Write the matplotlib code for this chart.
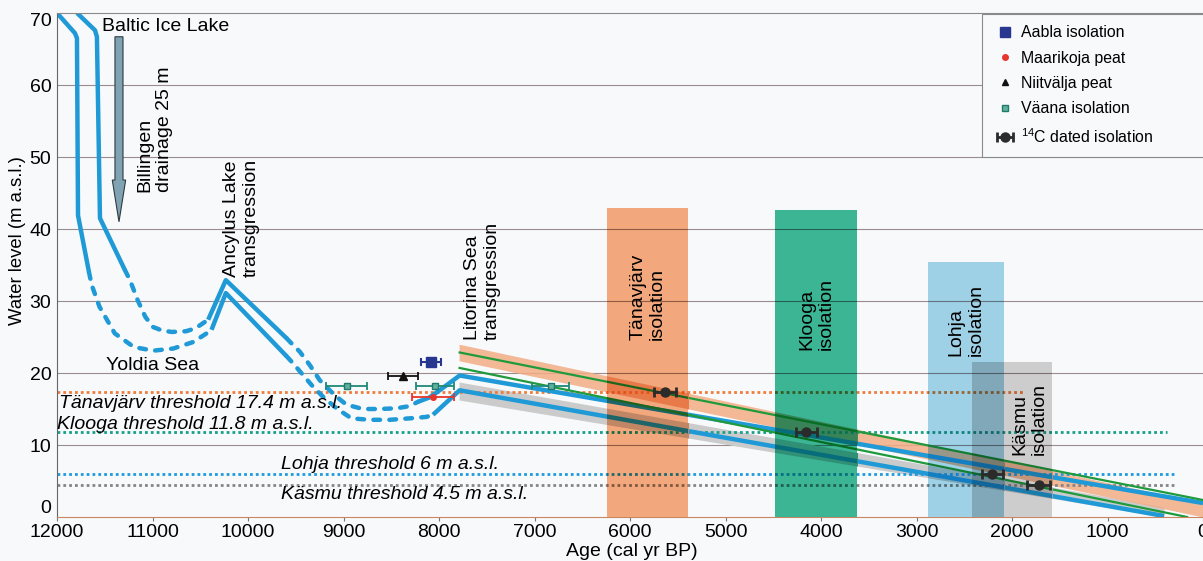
import numpy as np
import matplotlib
matplotlib.use('Agg')
import matplotlib.pyplot as plt
import matplotlib.patches as mpatches
from matplotlib.lines import Line2D
from matplotlib.colors import to_rgb

plt.rcParams['font.family'] = ['Liberation Sans', 'DejaVu Sans']
plt.rcParams['mathtext.fontset'] = 'custom'
plt.rcParams['mathtext.rm'] = 'Liberation Sans'

# shoreline curves: age (cal yr BP) / level (m a.s.l.)
# upper curve
up_bil_age = [11790, 11602, 11582, 11550, 11289]
up_bil_lvl = [70.0, 67.6, 66.7, 41.5, 34.3]
up_yol_age = [11289, 11236, 11155, 11075, 10996, 10900, 10797, 10650, 10550, 10473, 10417]
up_yol_lvl = [34.3, 32.9, 30.1, 27.8, 26.4, 25.9, 25.7, 25.8, 26.2, 26.9, 27.4]
up_anc_age = [10417, 10232, 9594]
up_anc_lvl = [27.4, 32.9, 24.8]
up_gap_age = [9594, 9562, 9458, 9353, 9249, 9092, 8969, 8796, 8621, 8446, 8307, 8220]
up_gap_lvl = [24.8, 24.35, 22.96, 21.1, 19.0, 16.9, 15.6, 15.0, 15.0, 15.1, 15.4, 16.0]
up_lit_age = [8220, 8100, 7993, 7784, 0]
up_lit_lvl = [16.0, 16.6, 17.6, 19.65, 1.94]

# lower curve
lo_bil_age = [12000, 11812, 11791, 11780, 11665]
lo_bil_lvl = [70.0, 67.2, 66.5, 41.9, 34.0]
lo_yol_age = [11665, 11636, 11555, 11395, 11195, 10992, 10783, 10574, 10434, 10382]
lo_yol_lvl = [34.0, 32.2, 29.2, 25.5, 23.6, 23.1, 23.4, 24.3, 25.5, 26.0]
lo_anc_age = [10382, 10232, 9594]
lo_anc_lvl = [26.0, 31.1, 22.3]
lo_gap_age = [9594, 9528, 9423, 9319, 9214, 9074, 8917, 8725, 8516, 8307, 8132, 8063]
lo_gap_lvl = [22.3, 21.35, 19.7, 18.1, 16.7, 15.1, 13.7, 13.5, 13.5, 13.7, 13.9, 14.2]
lo_lit_age = [8063, 7784, 408]
lo_lit_lvl = [14.2, 17.6, 0.14]

# green curves
gr_up_age = [7784, 0]
gr_up_lvl = [22.85, 2.36]
gr_lo_age = [7784, 167]
gr_lo_lvl = [20.7, 0.0]

# uncertainty bands
or_band_age = [7790, 0]
or_band_top = [24.0, 1.94]
or_band_bot = [21.7, 0.0]
gy_band_age = [7790, 408]
gy_band_top = [18.75, 1.4]
gy_band_bot = [16.25, 0.0]

# thresholds
thr_names = ['Tänavjärv', 'Klooga', 'Lohja', 'Käsmu']
thr_levels = [17.4, 11.8, 6.0, 4.5]
thr_end = [1873, 376, 293, 300]
thr_colors = ['#f07c3a', '#16a08a', '#1e9be0', '#858585']

# isolation intervals
bar_old = [6246, 4478, 2877, 2417]
bar_young = [5388, 3620, 2082, 1580]
bar_top = [42.9, 42.6, 35.4, 21.5]
bar_colors = ['#f2a87c', '#3bb593', '#9fd1e6', '#cdcdcd']

# dated points
aabla_age, aabla_lvl, aabla_err = [8080], [21.5], [105]
maar_age, maar_lvl, maar_err = [8060], [16.7], [220]
niit_age, niit_lvl, niit_err = [8380], [19.6], [157]
vaana_age = [8966, 8040, 6832]
vaana_lvl = [18.2, 18.2, 18.2]
vaana_err = [217, 200, 190]
c14_age = [5635, 4153, 2207, 1720]
c14_lvl = [17.4, 11.8, 6.0, 4.5]
c14_err = [113, 109, 109, 118]

grid_levels = [10, 20, 30, 40, 50, 60]

bg = '#f8f9fb'
blue = '#1f9ad6'
green = '#1f9a3c'

segments = [
    (up_bil_age, up_bil_lvl, False), (up_yol_age, up_yol_lvl, True),
    (up_anc_age, up_anc_lvl, False), (up_gap_age, up_gap_lvl, True),
    (up_lit_age, up_lit_lvl, False),
    (lo_bil_age, lo_bil_lvl, False), (lo_yol_age, lo_yol_lvl, True),
    (lo_anc_age, lo_anc_lvl, False), (lo_gap_age, lo_gap_lvl, True),
    (lo_lit_age, lo_lit_lvl, False),
]

fig = plt.figure(figsize=(12.03, 5.61), dpi=100, facecolor=bg)
ax = fig.add_axes([57 / 1203, 44 / 561, 1146 / 1203, 504 / 561])
ax.set_facecolor(bg)


def mult(c, tint):
    if tint is None:
        return c
    return tuple(np.array(to_rgb(c)) * np.array(to_rgb(tint)))


def draw_base(tint=None, clip=None, z=2.0):
    arts = []
    arts.append(ax.hlines(grid_levels, 12000, 0, colors=[mult('#9a8c8c', tint)], lw=0.8, zorder=z))
    arts.append(ax.fill_between(gy_band_age, gy_band_bot, gy_band_top, color=mult('#cbcbcb', tint), lw=0, zorder=z + 0.01))
    arts.append(ax.fill_between(or_band_age, or_band_bot, or_band_top, color=mult('#f3ad85', tint), alpha=0.85, lw=0, zorder=z + 0.02))
    for lvl, end, c in zip(thr_levels, thr_end, thr_colors):
        arts += ax.plot([12000, end], [lvl, lvl], ls=(0, (1, 1.1)), lw=2.0, color=mult(c, tint), zorder=z + 0.03)
    for age, lvl, dashed in segments:
        if dashed:
            arts += ax.plot(age, lvl, color=mult(blue, tint), lw=3.2, ls=(0, (1.5, 2.1)),
                            dash_capstyle='round', zorder=z + 0.04)
        else:
            arts += ax.plot(age, lvl, color=mult(blue, tint), lw=3.2, solid_capstyle='butt', zorder=z + 0.04)
    arts += ax.plot(gr_up_age, gr_up_lvl, color=mult(green, tint), lw=1.6, zorder=z + 0.05)
    arts += ax.plot(gr_lo_age, gr_lo_lvl, color=mult(green, tint), lw=1.6, zorder=z + 0.05)
    if clip is not None:
        for a in arts:
            a.set_clip_path(clip)


draw_base()

# isolation bars, multiplied over what lies beneath
regions = list(zip(bar_old, bar_young, bar_top, bar_colors))
regions.append((bar_old[3], bar_young[2], min(bar_top[2], bar_top[3]), mult(bar_colors[2], bar_colors[3])))
z = 3
for old, young, top, c in regions:
    rect = mpatches.Rectangle((young, 0), old - young, top, facecolor=c, lw=0, zorder=z)
    ax.add_patch(rect)
    draw_base(tint=c, clip=rect, z=z + 0.1)
    z += 1

# Billingen drainage arrow
arrow = mpatches.FancyArrow(11351, 66.7, 0, -25.7, width=84, head_width=140, head_length=5.8,
                            length_includes_head=True, facecolor='#7fa3b3', edgecolor='#2f3a40',
                            lw=0.8, zorder=12)
ax.add_patch(arrow)

# dated points
ax.errorbar(vaana_age, vaana_lvl, xerr=vaana_err, fmt='s', ms=5, mfc='#5fb09e', mec='#1f7a6a',
            ecolor='#1f8a78', elinewidth=1.3, capsize=3, capthick=1.3, zorder=12)
ax.errorbar(maar_age, maar_lvl, xerr=maar_err, fmt='o', ms=4, color='#e8352e',
            elinewidth=1.3, capsize=3, capthick=1.3, zorder=12)
ax.errorbar(niit_age, niit_lvl, xerr=niit_err, fmt='^', ms=6, color='#111111',
            elinewidth=1.3, capsize=3, capthick=1.3, zorder=12)
ax.errorbar(aabla_age, aabla_lvl, xerr=aabla_err, fmt='s', ms=7.5, color='#27378f',
            elinewidth=1.5, capsize=3, capthick=1.5, zorder=12)
c14 = ax.errorbar(c14_age, c14_lvl, xerr=c14_err, fmt='o', ms=6.5, color='#2b2b2b',
                  elinewidth=2, capsize=3.5, capthick=2, zorder=12)

# labels
fs = 14
ax.text(11529, 68.1, 'Baltic Ice Lake', fontsize=fs, ha='left', va='center', zorder=15)
ax.text(10975, 45.1, 'Billingen\ndrainage 25 m', fontsize=fs, rotation=90, ha='center', va='bottom',
        multialignment='left', zorder=15)
ax.text(10065, 33.3, 'Ancylus Lake\ntransgression', fontsize=fs, rotation=90, ha='center', va='bottom',
        multialignment='left', zorder=15)
ax.text(10996, 21.1, 'Yoldia Sea', fontsize=fs, ha='center', va='center', zorder=15)
ax.text(7543, 24.6, 'Litorina Sea\ntransgression', fontsize=fs, rotation=90, ha='center', va='bottom',
        multialignment='left', zorder=15)
ax.text(5817, 24.6, 'Tänavjärv\nisolation', fontsize=fs, rotation=90, ha='center', va='bottom',
        multialignment='left', zorder=15)
ax.text(4049, 23.2, 'Klooga\nisolation', fontsize=fs, rotation=90, ha='center', va='bottom',
        multialignment='left', zorder=15)
ax.text(2480, 22.4, 'Lohja\nisolation', fontsize=fs, rotation=90, ha='center', va='bottom',
        multialignment='left', zorder=15)
ax.text(1820, 8.6, 'Käsmu\nisolation', fontsize=fs, rotation=90, ha='center', va='bottom',
        multialignment='left', zorder=15)

ax.text(11979, 15.8, 'Tänavjärv threshold 17.4 m a.s.l.', fontsize=fs, style='italic', ha='left', va='center', zorder=15)
ax.text(11995, 12.9, 'Klooga threshold 11.8 m a.s.l.', fontsize=fs, style='italic', ha='left', va='center', zorder=15)
ax.text(9657, 7.36, 'Lohja threshold 6 m a.s.l.', fontsize=fs, style='italic', ha='left', va='center', zorder=15)
ax.text(9657, 3.06, 'Käsmu threshold 4.5 m a.s.l.', fontsize=fs, style='italic', ha='left', va='center', zorder=15)

# legend
handles = [
    Line2D([], [], ls='', marker='s', ms=7, color='#27378f'),
    Line2D([], [], ls='', marker='o', ms=4, color='#e8352e'),
    Line2D([], [], ls='', marker='^', ms=5, color='#111111'),
    Line2D([], [], ls='', marker='s', ms=5, mfc='#5fb09e', mec='#1f7a6a'),
    c14,
]
labels = ['Aabla isolation', 'Maarikoja peat', 'Niitvälja peat', 'Väana isolation',
          r'$^{14}$C dated isolation']
leg = ax.legend(handles, labels, loc='upper left', bbox_to_anchor=(0.807, 0.714, 0.2, 0.284),
                mode='expand', borderaxespad=0, fontsize=11.4, fancybox=False, edgecolor='#8a8a8a',
                facecolor=bg, framealpha=1, handlelength=1.5, handletextpad=0.3,
                labelspacing=0.66, borderpad=0.7)
leg.get_frame().set_linewidth(0.8)
leg.set_zorder(20)

# axes
ax.set_xlim(12000, 0)
ax.set_ylim(0, 70)
ax.set_xticks(range(12000, -1, -1000))
ax.set_yticks(range(0, 71, 10))
ax.tick_params(axis='x', length=3, pad=2, labelsize=14, color='#777777')
ax.tick_params(axis='y', length=0, pad=4, labelsize=14)
ax.yaxis.get_major_ticks()[-1].label1.set_verticalalignment('top')
ax.yaxis.get_major_ticks()[0].label1.set_verticalalignment('bottom')
ax.spines['right'].set_visible(False)
ax.spines['top'].set_color('#8a8a8a')
ax.spines['left'].set_color('#666666')
ax.spines['bottom'].set_color('#c98660')
ax.set_xlabel('Age (cal yr BP)', fontsize=14)
ax.xaxis.set_label_coords(0.502, -0.052)
ax.set_ylabel('Water level (m a.s.l.)', fontsize=13.3)
ax.yaxis.set_label_coords(-0.027, 0.548)

fig.savefig('out.png', dpi=100, facecolor=bg)
